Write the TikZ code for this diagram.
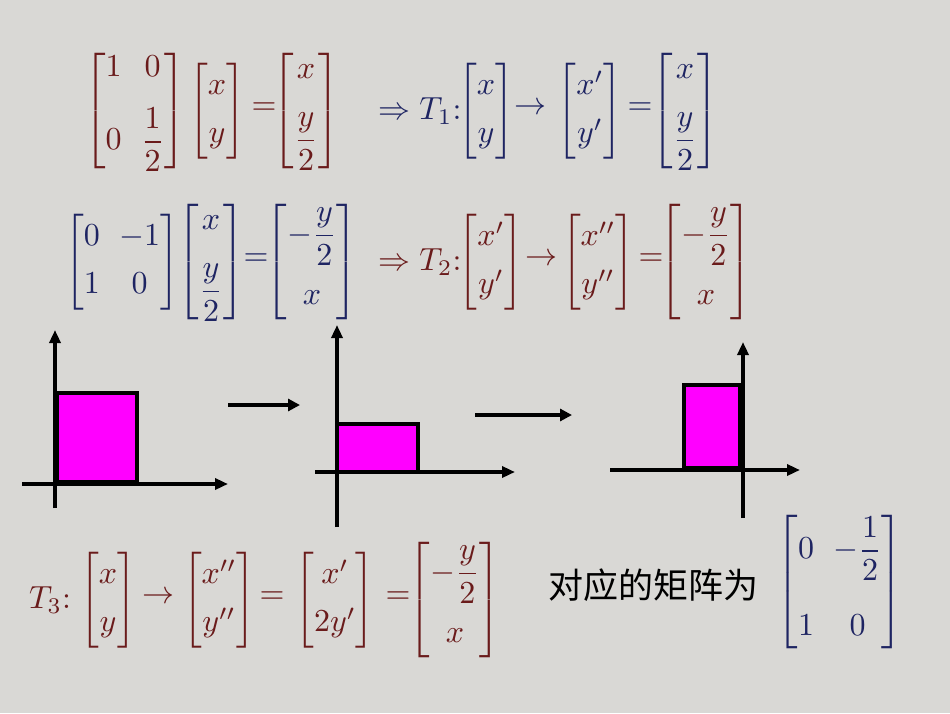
\documentclass[tikz,border=0pt]{standalone}
\usepackage{amsmath}
\usepackage{fontspec}
\usetikzlibrary{arrows.meta}
\newfontfamily\cjk{Noto Sans CJK SC}
\definecolor{dr}{HTML}{6A1B1B}
\definecolor{nv}{HTML}{1E2462}
\definecolor{bg}{HTML}{D9D8D5}
\definecolor{mag}{HTML}{FF00FF}
\newcommand{\E}[1]{\scalebox{3.2}{$\setlength{\arraycolsep}{3pt}#1$}}
\begin{document}
\begin{tikzpicture}[x=1pt,y=-1pt,
  eq/.style={inner sep=0pt},
  ax/.style={line width=3.5pt,-{Triangle[length=13pt,width=11pt]}},
  sq/.style={fill=mag,draw=black,line width=4pt},
  big/.style={line width=4pt,-{Triangle[length=12pt,width=12pt]}}]
\fill[bg] (0,0) rectangle (950,713);
\useasboundingbox (0,0) rectangle (950,713);
% row 1
\node[eq,text=dr] (m1) at (135,111) {\E{\begin{bmatrix}1&0\\[6pt]0&\dfrac12\end{bmatrix}}};
\node[eq,text=dr] (v1) at (217,111) {\E{\begin{bmatrix}x\\[3pt] y\end{bmatrix}}};
\node[eq,text=dr] (e1) at (264,109) {\E{=}};
\node[eq,text=dr] (r1) at (306,111) {\E{\begin{bmatrix}x\\[7pt] \dfrac y2\end{bmatrix}}};
\node[eq,text=nv] (t1) at (420,111) {\E{\Rightarrow T_1{:}}};
\node[eq,text=nv] (a1) at (486,111) {\E{\begin{bmatrix}x\\[3pt] y\end{bmatrix}}};
\node[eq,text=nv] (ar1) at (530,109) {\E{\rightarrow}};
\node[eq,text=nv] (b1) at (590,111) {\E{\begin{bmatrix}x'\\[3pt] y'\end{bmatrix}}};
\node[eq,text=nv] (e1b) at (640,109) {\E{=}};
\node[eq,text=nv] (c1) at (685,111) {\E{\begin{bmatrix}x\\[7pt] \dfrac y2\end{bmatrix}}};
% row 2
\node[eq,text=nv] (m2) at (122,262) {\E{\begin{bmatrix}0&-1\\[3pt]1&0\end{bmatrix}}};
\node[eq,text=nv] (v2) at (211,262) {\E{\begin{bmatrix}x\\[7pt] \dfrac y2\end{bmatrix}}};
\node[eq,text=nv] (e2) at (256,260) {\E{=}};
\node[eq,text=nv] (r2) at (312,262) {\E{\begin{bmatrix}-\dfrac y2\\[7pt] x\end{bmatrix}}};
\node[eq,text=dr] (t2) at (420,262) {\E{\Rightarrow T_2{:}}};
\node[eq,text=dr] (a2) at (491,262) {\E{\begin{bmatrix}x'\\[3pt] y'\end{bmatrix}}};
\node[eq,text=dr] (ar2) at (541,260) {\E{\rightarrow}};
\node[eq,text=dr] (b2) at (598,262) {\E{\begin{bmatrix}x''\\[3pt] y''\end{bmatrix}}};
\node[eq,text=dr] (e2b) at (651,260) {\E{=}};
\node[eq,text=dr] (c2) at (706,262) {\E{\begin{bmatrix}-\dfrac y2\\[7pt] x\end{bmatrix}}};
% row 3
\node[eq,text=dr] (t3) at (50,600) {\E{T_3{:}}};
\node[eq,text=dr] (a3) at (108,600) {\E{\begin{bmatrix}x\\[3pt] y\end{bmatrix}}};
\node[eq,text=dr] (ar3) at (158,598) {\E{\rightarrow}};
\node[eq,text=dr] (b3) at (219,600) {\E{\begin{bmatrix}x''\\[3pt] y''\end{bmatrix}}};
\node[eq,text=dr] (e3) at (272,598) {\E{=}};
\node[eq,text=dr] (c3) at (335,600) {\E{\begin{bmatrix}x'\\[3pt] 2y'\end{bmatrix}}};
\node[eq,text=dr] (e3b) at (398,598) {\E{=}};
\node[eq,text=dr] (d3) at (455,600) {\E{\begin{bmatrix}-\dfrac y2\\[7pt] x\end{bmatrix}}};
\node[inner sep=0pt,font=\cjk\fontsize{35}{40}\selectfont] (zh) at (653,585) {对应的矩阵为};
\node[eq,text=nv] (f3) at (840,582) {\E{\begin{bmatrix}0&-\dfrac12\\[12pt]1&0\end{bmatrix}}};
% graphs
\draw[ax] (55,508) -- (55,330);
\draw[ax] (22,484) -- (228,484);
\draw[sq] (57,393) rectangle (137,482);
\draw[big] (228,405) -- (300,405);
\draw[ax] (337,527) -- (337,325);
\draw[ax] (315,472) -- (515,472);
\draw[sq] (337,424) rectangle (418,472);
\draw[big] (475,415) -- (572,415);
\draw[ax] (743,518) -- (743,342);
\draw[ax] (610,470) -- (800,470);
\draw[sq] (684,385) rectangle (740,468);
\end{tikzpicture}
\end{document}
